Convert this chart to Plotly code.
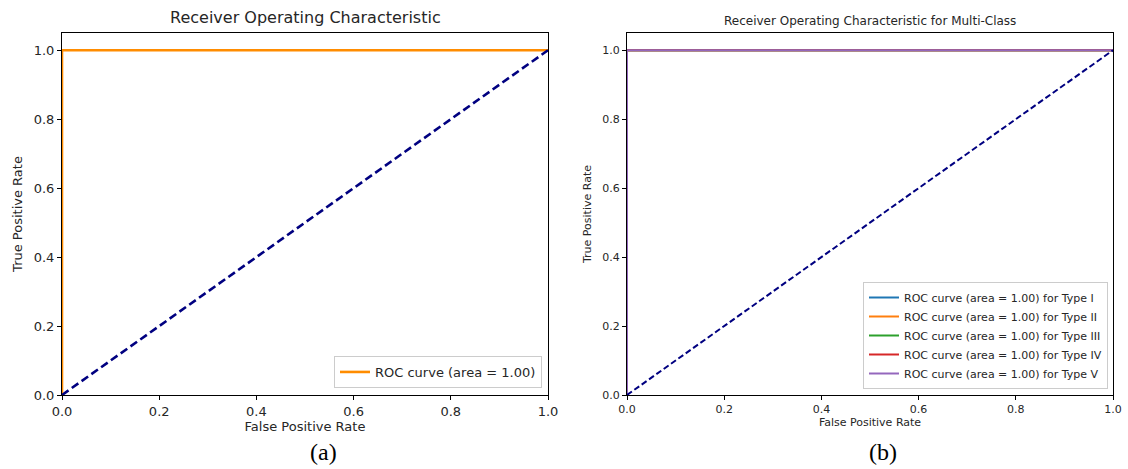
import plotly.graph_objects as go

# ---- data ----
fpr = [0.0, 0.0, 1.0]
tpr = [0.0, 1.0, 1.0]
chance_x = [0.0, 1.0]
chance_y = [0.0, 1.0]
auc_single = 1.00
class_names = ["Type I", "Type II", "Type III", "Type IV", "Type V"]
class_auc = [1.00, 1.00, 1.00, 1.00, 1.00]
class_fpr = [[0.0, 0.0, 1.0]] * 5
class_tpr = [[0.0, 1.0, 1.0]] * 5
class_colors = ["#1f77b4", "#ff7f0e", "#2ca02c", "#d62728", "#9467bd"]
xticks = [0.0, 0.2, 0.4, 0.6, 0.8, 1.0]
yticks = [0.0, 0.2, 0.4, 0.6, 0.8, 1.0]

W, H = 1128, 469
FONT = "DejaVu Sans"
TXT = "#262626"

fig = go.Figure()

# Left panel
fig.add_trace(go.Scatter(x=fpr, y=tpr, mode="lines",
                         line=dict(color="#ff8c00", width=2.6),
                         name=f"ROC curve (area = {auc_single:.2f})",
                         xaxis="x", yaxis="y", legend="legend"))
fig.add_trace(go.Scatter(x=chance_x, y=chance_y, mode="lines",
                         line=dict(color="#000080", width=2.6, dash="8px,4px"),
                         showlegend=False, xaxis="x", yaxis="y"))

# Right panel
for name, a, fx, ty, c in zip(class_names, class_auc, class_fpr, class_tpr, class_colors):
    fig.add_trace(go.Scatter(x=fx, y=ty, mode="lines",
                             line=dict(color=c, width=2),
                             name=f"ROC curve (area = {a:.2f}) for {name}",
                             xaxis="x2", yaxis="y2", legend="legend2"))
fig.add_trace(go.Scatter(x=chance_x, y=chance_y, mode="lines",
                         line=dict(color="#000080", width=2, dash="6px,3px"),
                         showlegend=False, xaxis="x2", yaxis="y2"))

def ax(domain, fs, anchor, title, standoff):
    return dict(domain=domain, anchor=anchor, range=[0, 1.0], automargin=False,
                tickvals=xticks, ticktext=[f"{v:.1f}" for v in xticks],
                ticks="outside", ticklen=4, tickcolor="black", tickwidth=1,
                showline=True, linecolor="black", linewidth=1, mirror=True,
                showgrid=False, zeroline=False,
                tickfont=dict(family=FONT, size=fs, color=TXT),
                title=dict(text=title, font=dict(family=FONT, size=fs, color=TXT), standoff=standoff))

def ay(domain, fs, anchor, title, standoff):
    return dict(domain=domain, anchor=anchor, range=[0, 1.05], automargin=False,
                tickvals=yticks, ticktext=[f"{v:.1f}" for v in yticks],
                ticks="outside", ticklen=4, tickcolor="black", tickwidth=1,
                showline=True, linecolor="black", linewidth=1, mirror=True,
                showgrid=False, zeroline=False,
                tickfont=dict(family=FONT, size=fs, color=TXT),
                title=dict(text=title, font=dict(family=FONT, size=fs, color=TXT), standoff=standoff))

yd = [1 - 395 / H, 1 - 33 / H]
fig.update_layout(
    width=W, height=H,
    margin=dict(l=0, r=0, t=0, b=0),
    paper_bgcolor="white", plot_bgcolor="white",
    xaxis=ax([62 / W, 548 / W], 13, "y", "False Positive Rate", 4),
    yaxis=ay(yd, 13, "x", "True Positive Rate", 8),
    xaxis2=ax([627 / W, 1113 / W], 11, "y2", "False Positive Rate", 3),
    yaxis2=ay(yd, 11, "x2", "True Positive Rate", 8),
    legend=dict(x=542 / W, y=1 - 388 / H, xanchor="right", yanchor="bottom",
                bgcolor="rgba(255,255,255,0.8)", bordercolor="#cccccc", borderwidth=1,
                font=dict(family=FONT, size=13, color=TXT)),
    legend2=dict(x=1108 / W, y=1 - 389 / H, xanchor="right", yanchor="bottom",
                 bgcolor="rgba(255,255,255,0.8)", bordercolor="#cccccc", borderwidth=1,
                 font=dict(family=FONT, size=11, color=TXT), tracegroupgap=0),
    annotations=[
        dict(text="Receiver Operating Characteristic", x=305 / W, y=1 - 18 / H,
             xref="paper", yref="paper", showarrow=False, xanchor="center", yanchor="middle",
             font=dict(family=FONT, size=16, color=TXT)),
        dict(text="Receiver Operating Characteristic for Multi-Class", x=870 / W, y=1 - 21 / H,
             xref="paper", yref="paper", showarrow=False, xanchor="center", yanchor="middle",
             font=dict(family=FONT, size=12, color=TXT)),
        dict(text="(a)", x=323 / W, y=1 - 452 / H, xref="paper", yref="paper",
             showarrow=False, xanchor="center", yanchor="middle",
             font=dict(family="Liberation Serif", size=24, color="black")),
        dict(text="(b)", x=883 / W, y=1 - 452 / H, xref="paper", yref="paper",
             showarrow=False, xanchor="center", yanchor="middle",
             font=dict(family="Liberation Serif", size=24, color="black")),
    ],
)

fig.write_html("out.html")
